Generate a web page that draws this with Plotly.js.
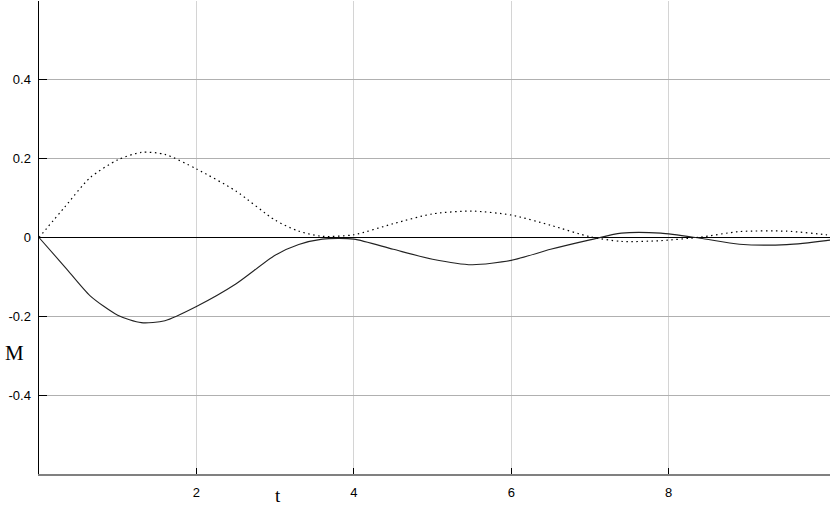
<!DOCTYPE html>
<html>
<head>
<meta charset="utf-8">
<script src="https://cdn.plot.ly/plotly-3.0.1.min.js"></script>
<style>
  body { margin: 0; background: #fff; }
  #chart { width: 830px; height: 507px; }
</style>
</head>
<body>
<div id="chart"></div>
<script>
// sample times and the two response curves
const t = [0, 0.33, 0.65, 1.0, 1.3, 1.6, 2.0, 2.5, 3.0, 3.3, 3.6, 4.0, 4.5, 5.0,
           5.5, 6.0, 6.5, 7.0, 7.4, 7.9, 8.4, 8.9, 9.5, 10.0, 10.1];
const mSolid = [0, -0.075, -0.148, -0.197, -0.216, -0.211, -0.175, -0.118, -0.045,
                -0.018, -0.004, -0.004, -0.030, -0.055, -0.069, -0.058, -0.030,
                -0.006, 0.011, 0.011, -0.002, -0.017, -0.018, -0.008, -0.005];
const mDotted = [0, 0.078, 0.152, 0.197, 0.216, 0.211, 0.174, 0.118, 0.044,
                 0.016, 0.003, 0.007, 0.035, 0.060, 0.067, 0.057, 0.031,
                 0.002, -0.010, -0.008, 0.001, 0.015, 0.016, 0.007, 0.004];

const xTicks = [2, 4, 6, 8];
const yTicks = [0.4, 0.2, 0, -0.2, -0.4];
const yTickText = ['0.4', '0.2', '0', '-0.2', '-0.4'];

const data = [
    {
        x: t, y: mSolid, type: 'scatter', mode: 'lines',
        line: {color: '#222', width: 1.1, shape: 'spline', smoothing: 0.7},
    },
    {
        x: t, y: mDotted, type: 'scatter', mode: 'lines',
        line: {color: '#000', width: 1.2, dash: '1.5px,3.5px', shape: 'spline', smoothing: 0.7},
    },
];

const layout = {
    width: 830,
    height: 507,
    margin: {l: 39, r: 0, t: 1, b: 33},
    paper_bgcolor: '#fff',
    plot_bgcolor: '#fff',
    showlegend: false,
    font: {family: 'Liberation Sans, Arial, sans-serif', size: 13, color: '#000'},
    xaxis: {
        range: [0, 10.05],
        tickvals: xTicks,
        ticks: 'inside', ticklen: 6, tickcolor: '#000', tickwidth: 1,
        ticklabelstandoff: 5,
        showgrid: true, gridcolor: '#d4d4d4', gridwidth: 1,
        zeroline: false,
        showline: true, linecolor: '#808080', linewidth: 2,
    },
    yaxis: {
        range: [-0.6, 0.6],
        tickvals: yTicks, ticktext: yTickText,
        ticks: 'inside', ticklen: 8, tickcolor: '#000', tickwidth: 1,
        ticklabelstandoff: 4,
        showgrid: true, gridcolor: '#b0b0b0', gridwidth: 1,
        zeroline: true, zerolinecolor: '#000', zerolinewidth: 1.5,
        showline: true, linecolor: '#000', linewidth: 1.5,
    },
    annotations: [
        {
            text: 'M', xref: 'paper', yref: 'paper', x: -0.031, y: 0.255,
            showarrow: false, xanchor: 'center', yanchor: 'middle',
            font: {family: 'Liberation Serif, serif', size: 21, color: '#000'},
        },
        {
            text: 't', xref: 'paper', yref: 'paper', x: 0.302, y: -0.045,
            showarrow: false, xanchor: 'center', yanchor: 'middle',
            font: {family: 'Liberation Serif, serif', size: 19, color: '#000'},
        },
    ],
};

Plotly.newPlot('chart', data, layout, {staticPlot: true});
</script>
</body>
</html>
